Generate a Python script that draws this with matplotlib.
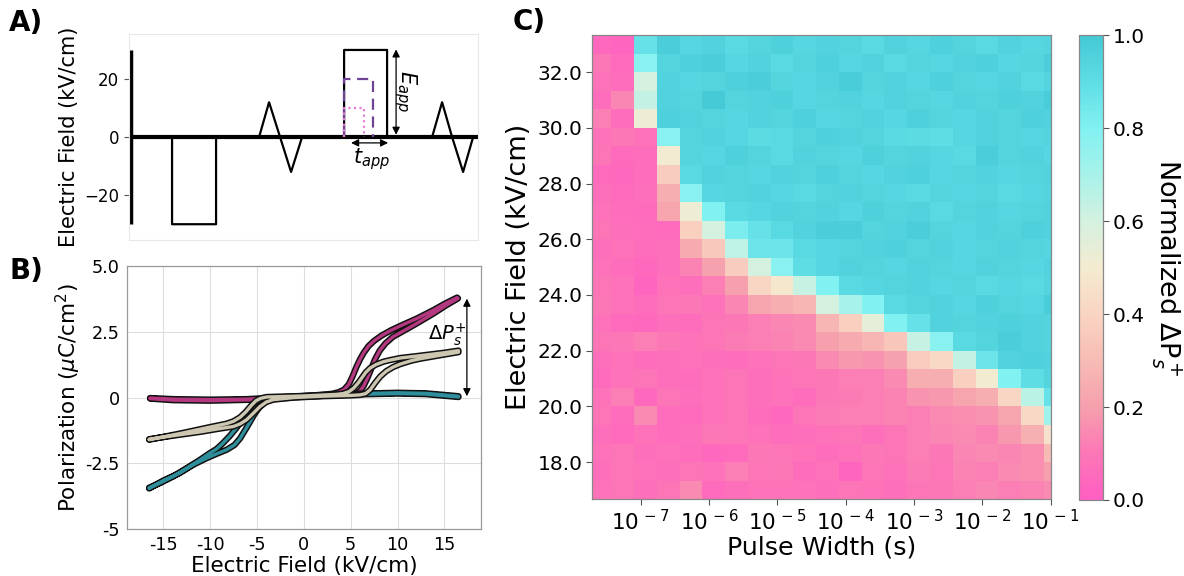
import matplotlib
matplotlib.use('Agg')
import matplotlib.pyplot as plt
import numpy as np
from matplotlib.colors import LinearSegmentedColormap
import matplotlib.patheffects as pe
from matplotlib.ticker import FixedLocator, NullLocator

# ---------------- Panel A data (waveform) ----------------
start_t = [2, 2]
start_E = [-30, 30]
base_t = [2, 349]
base_E = [0, 0]
wave_t = [2, 43, 43, 87, 87, 130, 140, 151, 162, 173, 215, 215, 258, 258, 303, 313, 323, 334, 344, 349]
wave_E = [0, 0, -30, -30, 0, 0, 12, 0, -12, 0, 0, 30, 30, 0, 0, 12, 0, -12, 0, 0]
dash_t = [215, 215, 244, 244]
dash_E = [0, 20, 20, 0]
dot_t = [215, 215, 235, 235]
dot_E = [0, 10, 10, 0]
A_yticks = [-20, 0, 20]

# ---------------- Panel B data (P-E loops) ----------------
mag_E = [-16.4, -14, -10, -6, -3, 0, 3, 5, 5.6, 6.0, 6.4, 6.8, 7.2, 7.6, 8.1, 8.7, 9.5, 10.5, 12.0, 13.85, 15.2, 16.45,
         16.35, 15.0, 13.85, 12.08, 10.5, 9.3, 8.3, 7.5, 6.9, 6.4, 6.0, 5.6, 5.2, 4.8, 4.3, 3.7, 3.0, 1, -2, -5, -10, -14, -16.4]
mag_P = [-0.02, -0.06, -0.08, -0.06, 0.0, 0.04, 0.08, 0.12, 0.15, 0.25, 0.45, 0.75, 1.1, 1.45, 1.78, 2.05, 2.3, 2.5, 2.8, 3.19, 3.5, 3.76,
         3.79, 3.55, 3.32, 3.0, 2.75, 2.55, 2.35, 2.15, 1.95, 1.7, 1.45, 1.15, 0.8, 0.5, 0.3, 0.2, 0.14, 0.08, 0.0, -0.08, -0.12, -0.1, -0.04]

gray_E = [-16.5, -14, -11, -9, -7.52, -6.8, -6.09, -5.4, -4.67, -4.0, -3.25, -1, 2, 5, 6.0, 6.6, 7.1, 7.6, 8.16, 8.8, 9.5, 10.3, 11.5, 12.4, 14.5, 16.5,
          16.5, 15.0, 13.85, 12.0, 10.3, 9.2, 8.5, 7.7, 7.09, 6.6, 6.2, 5.8, 5.3, 4.8, 4.2, 3.5, 0, -2, -3.96, -4.6, -5.1, -5.6, -6.2, -6.8, -7.5, -8.23, -10, -13, -16.5]
gray_P = [-1.58, -1.45, -1.3, -1.18, -1.1, -1.0, -0.84, -0.6, -0.34, -0.17, -0.08, 0.0, 0.05, 0.08, 0.1, 0.15, 0.3, 0.55, 0.8, 1.0, 1.15, 1.27, 1.4, 1.47, 1.6, 1.72,
          1.78, 1.7, 1.65, 1.57, 1.5, 1.42, 1.36, 1.25, 1.12, 0.95, 0.75, 0.55, 0.35, 0.22, 0.15, 0.12, 0.06, 0.04, 0.02, -0.03, -0.12, -0.3, -0.55, -0.75, -0.9, -0.99, -1.12, -1.35, -1.6]

teal_E = [-16.5, -15.0, -13.22, -11.8, -10.37, -9.2, -8.23, -7.4, -6.8, -6.2, -5.74, -5.3, -4.85, -4.4, -3.96, -3.0, -2, 0, 3, 6, 10, 13, 16.5,
          16.5, 13, 10, 6, 3, 0, -3, -4.3, -5.02, -5.5, -5.92, -6.4, -6.8, -7.3, -7.88, -8.6, -9.3, -10.2, -11.06, -12.5, -13.93, -15.2, -16.5]
teal_P = [-3.45, -3.15, -2.86, -2.55, -2.3, -2.12, -1.98, -1.8, -1.55, -1.2, -0.92, -0.65, -0.42, -0.25, -0.13, -0.05, -0.02, 0.03, 0.08, 0.12, 0.15, 0.13, 0.02,
          0.05, 0.16, 0.18, 0.15, 0.1, 0.06, 0.0, -0.05, -0.15, -0.3, -0.5, -0.75, -0.97, -1.2, -1.45, -1.72, -1.95, -2.15, -2.36, -2.68, -2.99, -3.22, -3.42]

B_xticks = [-15, -10, -5, 0, 5, 10, 15]
B_xlabels = ['-15', '-10', '-5', '0', '5', '10', '15']
B_yticks = [-5, -2.5, 0, 2.5, 5]
B_ylabels = ['-5', '-2.5', '0', '2.5', '5.0']

# ---------------- Panel C data (heatmap) ----------------
pulse_log_edges = [-7.71, -7.433, -7.1, -6.767, -6.433, -6.1, -5.767, -5.433, -5.1, -4.767, -4.433,
                   -4.1, -3.767, -3.433, -3.1, -2.767, -2.433, -2.1, -1.767, -1.433, -1.1, -1.0]
E_levels = [33.0, 32.33, 31.67, 31.0, 30.33, 29.67, 29.0, 28.33, 27.67, 27.0, 26.33, 25.67, 25.0,
            24.33, 23.67, 23.0, 22.33, 21.67, 21.0, 20.33, 19.67, 19.0, 18.33, 17.67, 17.0]
dPs = [
 [0.04,0.03,0.88,0.97,0.93,0.95,0.92,0.94,0.96,0.93,0.95,0.94,0.92,0.95,0.93,0.96,0.94,0.92,0.95,0.93,0.94],
 [0.10,0.05,0.78,0.94,0.96,0.97,0.93,0.95,0.92,0.94,0.96,0.93,0.95,0.92,0.94,0.93,0.95,0.96,0.93,0.94,0.97],
 [0.08,0.06,0.60,0.95,0.93,0.94,0.96,0.97,0.94,0.93,0.95,0.98,0.94,0.95,0.93,0.96,0.94,0.93,0.95,0.92,0.94],
 [0.06,0.14,0.64,0.95,0.94,0.99,0.94,0.95,0.96,0.93,0.94,0.95,0.93,0.95,0.94,0.93,0.95,0.94,0.96,0.95,0.98],
 [0.12,0.06,0.52,0.96,0.95,0.94,0.93,0.95,0.94,0.96,0.93,0.94,0.95,0.93,0.96,0.94,0.93,0.95,0.94,0.96,0.95],
 [0.08,0.10,0.08,0.78,0.94,0.95,0.93,0.91,0.92,0.94,0.96,0.95,0.94,0.92,0.91,0.90,0.93,0.95,0.94,0.93,0.94],
 [0.09,0.05,0.06,0.50,0.94,0.93,0.96,0.94,0.92,0.95,0.94,0.93,0.96,0.94,0.95,0.93,0.92,0.97,0.94,0.95,0.93],
 [0.05,0.04,0.06,0.37,0.92,0.95,0.94,0.93,0.95,0.94,0.96,0.94,0.93,0.95,0.96,0.93,0.94,0.95,0.93,0.94,0.95],
 [0.07,0.05,0.07,0.25,0.78,0.93,0.94,0.95,0.93,0.92,0.94,0.95,0.94,0.93,0.92,0.94,0.93,0.94,0.92,0.93,0.94],
 [0.08,0.06,0.05,0.22,0.52,0.80,0.92,0.93,0.95,0.94,0.95,0.93,0.96,0.94,0.95,0.92,0.94,0.95,0.93,0.94,0.95],
 [0.09,0.07,0.06,0.05,0.38,0.60,0.82,0.88,0.92,0.95,0.97,0.97,0.94,0.95,0.97,0.94,0.93,0.95,0.94,0.96,0.95],
 [0.07,0.08,0.06,0.07,0.24,0.35,0.65,0.86,0.86,0.92,0.93,0.94,0.95,0.96,0.94,0.95,0.93,0.94,0.95,0.94,0.93],
 [0.08,0.06,0.04,0.07,0.13,0.21,0.37,0.60,0.78,0.90,0.93,0.95,0.94,0.93,0.95,0.94,0.93,0.95,0.94,0.93,0.95],
 [0.09,0.08,0.03,0.08,0.07,0.12,0.20,0.40,0.48,0.63,0.80,0.92,0.93,0.94,0.95,0.93,0.94,0.92,0.93,0.92,0.94],
 [0.10,0.08,0.06,0.09,0.10,0.08,0.14,0.22,0.25,0.28,0.60,0.70,0.80,0.92,0.94,0.95,0.93,0.96,0.94,0.93,0.98],
 [0.08,0.05,0.04,0.07,0.06,0.09,0.10,0.12,0.14,0.15,0.28,0.38,0.55,0.80,0.88,0.95,0.94,0.95,0.96,0.95,0.94],
 [0.09,0.10,0.12,0.10,0.08,0.09,0.11,0.12,0.13,0.15,0.20,0.24,0.28,0.34,0.63,0.78,0.92,0.94,0.97,0.95,0.94],
 [0.07,0.08,0.06,0.07,0.08,0.07,0.06,0.08,0.09,0.10,0.15,0.18,0.17,0.21,0.36,0.42,0.64,0.86,0.95,0.96,0.95],
 [0.05,0.08,0.09,0.07,0.06,0.08,0.09,0.07,0.08,0.09,0.10,0.12,0.12,0.15,0.25,0.25,0.38,0.50,0.80,0.90,0.94],
 [0.08,0.12,0.04,0.09,0.07,0.08,0.09,0.07,0.08,0.06,0.10,0.11,0.12,0.13,0.17,0.18,0.22,0.25,0.40,0.66,0.88],
 [0.09,0.06,0.15,0.06,0.05,0.08,0.09,0.06,0.04,0.09,0.11,0.12,0.12,0.13,0.12,0.15,0.16,0.17,0.22,0.42,0.72],
 [0.07,0.05,0.08,0.06,0.07,0.10,0.09,0.08,0.06,0.07,0.08,0.09,0.07,0.09,0.12,0.14,0.15,0.13,0.18,0.26,0.46],
 [0.08,0.09,0.07,0.08,0.06,0.04,0.05,0.10,0.09,0.08,0.06,0.08,0.10,0.09,0.12,0.10,0.14,0.15,0.14,0.16,0.30],
 [0.07,0.09,0.08,0.07,0.09,0.08,0.12,0.09,0.10,0.06,0.08,0.03,0.09,0.08,0.11,0.09,0.13,0.12,0.15,0.16,0.20],
 [0.08,0.09,0.07,0.09,0.15,0.05,0.07,0.08,0.08,0.08,0.07,0.09,0.08,0.07,0.09,0.10,0.12,0.14,0.12,0.13,0.15],
]
C_xtick_exps = [-7, -6, -5, -4, -3, -2, -1]
C_yticks = [18, 20, 22, 24, 26, 28, 30, 32]
cbar_ticks = [0.0, 0.2, 0.4, 0.6, 0.8, 1.0]

cmap_nodes = [(0.0, '#ff5ec2'), (0.1, '#fc77b6'), (0.2, '#f6a0ad'), (0.3, '#f7bcb5'),
              (0.4, '#f9d5c3'), (0.5, '#f4ebd1'), (0.6, '#d4f1e0'), (0.7, '#a8f2ea'),
              (0.8, '#82f1f1'), (0.9, '#5fdde5'), (1.0, '#44c9d5')]

# ---------------- Figure ----------------
plt.rcParams['font.family'] = ['DejaVu Sans']
fig = plt.figure(figsize=(11.84, 5.76), dpi=100)

# ----- Panel A -----
axA = fig.add_axes([0.109, 0.583, 0.2948, 0.358])
axA.plot(base_t, base_E, color='k', lw=3, solid_capstyle='butt')
axA.plot(start_t, start_E, color='k', lw=2.5, solid_capstyle='butt')
axA.plot(wave_t, wave_E, color='k', lw=1.6)
axA.plot(dash_t, dash_E, color='#6e4396', lw=1.6, ls=(0, (5, 3)))
axA.plot(dot_t, dot_E, color='#e77fd6', lw=1.6, ls=(0, (1, 1.5)))
axA.set_xlim(0, 349)
axA.set_ylim(-35.5, 35.5)
axA.set_xticks([])
axA.set_yticks(A_yticks)
axA.tick_params(axis='y', labelsize=12, length=3.5, width=0.8, color='#555555')
for s in axA.spines.values():
    s.set_color('#e8e8e8')
    s.set_linewidth(0.8)
axA.set_ylabel('Electric Field (kV/cm)', fontsize=15, labelpad=4)
axA.annotate('', xy=(267, 0.8), xytext=(267, 30.2),
             arrowprops=dict(arrowstyle='<|-|>', color='k', lw=0.9, mutation_scale=11, shrinkA=0, shrinkB=0))
axA.text(276, 16, r'$E_{app}$', rotation=270, fontsize=15, ha='center', va='center')
axA.annotate('', xy=(222, -2), xytext=(259, -2),
             arrowprops=dict(arrowstyle='<|-|>', color='k', lw=0.9, mutation_scale=11, shrinkA=0, shrinkB=0))
axA.text(242, -7.5, r'$t_{app}$', fontsize=15, ha='center', va='center')

# ----- Panel B -----
axB = fig.add_axes([0.107, 0.081, 0.2992, 0.4577])
stroke = [pe.Stroke(linewidth=4.6, foreground='#111111'), pe.Normal()]
for E, P, c in [(mag_E, mag_P, '#b3387f'), (teal_E, teal_P, '#2f8e9c'), (gray_E, gray_P, '#cdc7b2')]:
    axB.plot(E, P, color=c, lw=2.4, path_effects=stroke, solid_joinstyle='round', solid_capstyle='round')
axB.set_xlim(-18.9, 18.9)
axB.set_ylim(-5, 5)
axB.set_xticks(B_xticks)
axB.set_xticklabels(B_xlabels)
axB.set_yticks(B_yticks)
axB.set_yticklabels(B_ylabels)
axB.tick_params(labelsize=12.7, length=0, pad=5)
axB.grid(True, color='#dddddd', lw=0.8)
axB.set_axisbelow(True)
for s in axB.spines.values():
    s.set_color('#999999')
    s.set_linewidth(0.9)
axB.set_xlabel('Electric Field (kV/cm)', fontsize=15.5, labelpad=1)
axB.set_ylabel(r'Polarization ($\mu$C/cm$^2$)', fontsize=15.5, labelpad=2)
axB.annotate('', xy=(17.4, 0.05), xytext=(17.4, 3.75),
             arrowprops=dict(arrowstyle='<|-|>', color='k', lw=0.9, mutation_scale=11, shrinkA=0, shrinkB=0))
axB.text(15.3, 2.4, r'$\Delta P_s^{+}$', fontsize=14, ha='center', va='center')

# ----- Panel C -----
cmap = LinearSegmentedColormap.from_list('pinkcyan', cmap_nodes)
axC = fig.add_axes([0.5003, 0.1332, 0.3871, 0.806])
xe = 10.0 ** np.array(pulse_log_edges)
Ev = np.array(E_levels)
mids = (Ev[:-1] + Ev[1:]) / 2
ye = np.concatenate([[Ev[0] + (Ev[0] - mids[0])], mids, [Ev[-1] - (mids[-1] - Ev[-1])]])
mesh = axC.pcolormesh(xe, ye, np.array(dPs), cmap=cmap, vmin=0, vmax=1, shading='flat', antialiased=False)
axC.set_xscale('log')
axC.set_xlim(xe[0], xe[-1])
axC.set_ylim(ye[-1], ye[0])
axC.xaxis.set_major_locator(FixedLocator([10.0 ** e for e in C_xtick_exps]))
axC.xaxis.set_minor_locator(NullLocator())
axC.set_xticklabels([r'$10^{\,-%d}$' % (-e) for e in C_xtick_exps])
axC.set_yticks(C_yticks)
axC.set_yticklabels(['%.1f' % v for v in C_yticks])
axC.tick_params(labelsize=14.5, length=4, width=0.8, color='#555555', pad=3)
axC.tick_params(axis='x', labelsize=15.5, pad=3)
for s in axC.spines.values():
    s.set_color('#888888')
    s.set_linewidth(0.9)
axC.set_xlabel('Pulse Width (s)', fontsize=18.3, labelpad=1)
axC.set_ylabel('Electric Field (kV/cm)', fontsize=19.5, labelpad=4)

cax = fig.add_axes([0.9116, 0.132, 0.0198, 0.807])
cb = fig.colorbar(mesh, cax=cax, ticks=cbar_ticks)
cb.ax.set_yticklabels(['%.1f' % v for v in cbar_ticks])
cb.ax.tick_params(labelsize=14.5, length=4, width=0.8, color='#555555', pad=3)
cb.outline.set_edgecolor('#888888')
cb.outline.set_linewidth(0.9)
cb.set_label(r'Normalized $\mathrm{\Delta P}_s^+$', fontsize=19.5, rotation=270, labelpad=28)

# ----- Panel letters -----
fig.text(0.022, 0.96, 'A)', fontsize=20, fontweight='bold', ha='center', va='center')
fig.text(0.022, 0.53, 'B)', fontsize=20, fontweight='bold', ha='center', va='center')
fig.text(0.447, 0.962, 'C)', fontsize=20, fontweight='bold', ha='center', va='center')

fig.savefig('out.png', dpi=100)
